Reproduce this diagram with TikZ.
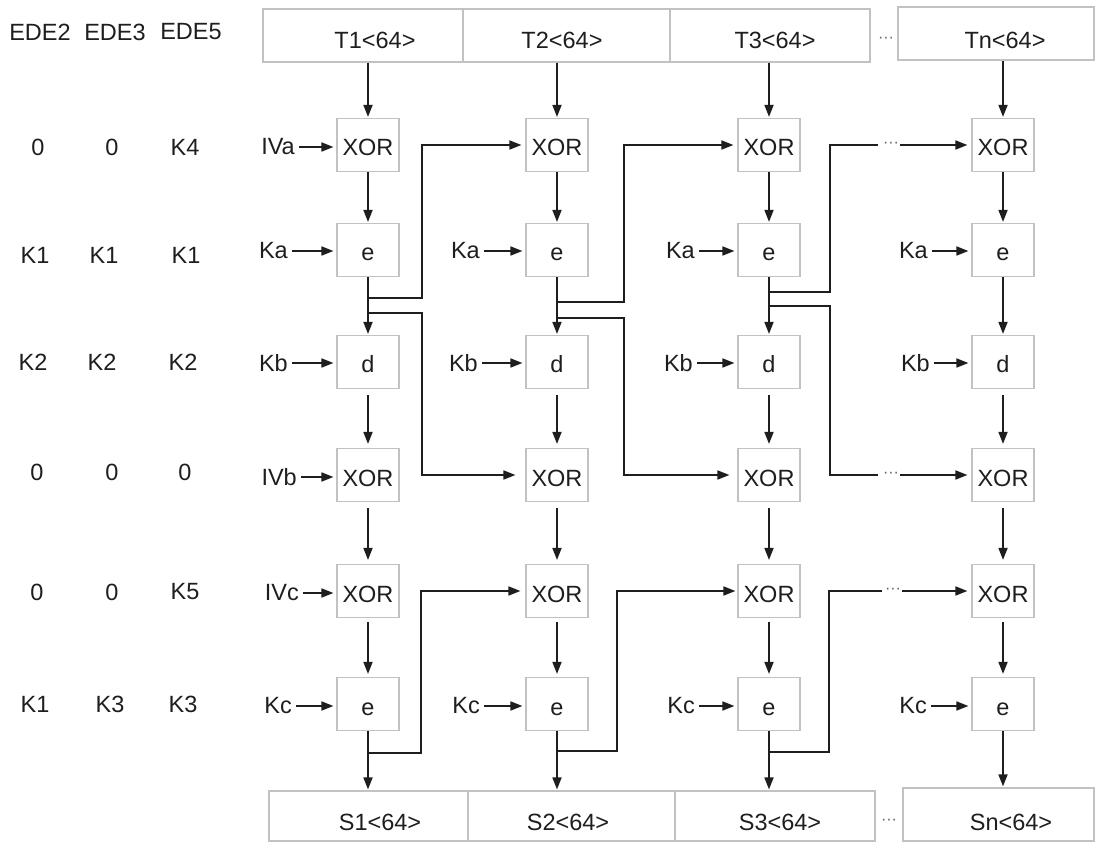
\documentclass[tikz,border=0pt]{standalone}
\usepackage{fontspec}
\setmainfont{Liberation Sans}
\usetikzlibrary{arrows.meta}
\definecolor{ink}{HTML}{1E1E1E}
\definecolor{boxline}{HTML}{C2C2C2}
\tikzset{
  every node/.style={font=\fontsize{23.5}{28}\selectfont, text=ink},
  blk/.style={draw=boxline, line width=1.2pt, minimum width=62pt, minimum height=53pt, inner sep=0pt, text height=22pt, text depth=0pt},
  strip/.style={draw=boxline, line width=1.2pt, inner sep=0pt},
  lbl/.style={inner sep=2pt, anchor=east},
  wire/.style={draw=ink, line width=1.7pt},
  arr/.style={wire, -{Triangle[length=12pt,width=9pt]}, shorten >=1pt},
  larr/.style={arr, shorten <=2pt, shorten >=3pt},
  dotsn/.style={font=\fontsize{16}{18}\selectfont, text=ink!70, inner sep=1pt},
}
\begin{document}
\begin{tikzpicture}[x=1pt,y=-1pt]
\useasboundingbox (0,0) rectangle (1096,842);
\fill[white] (0,0) rectangle (1096,842);

% ---------- left table ----------
\node (h2) at (40,32) {EDE2};
\node (h3) at (115,32) {EDE3};
\node (h5) at (191,32) {EDE5};
\node (a2) at (38,147) {0};   \node (a3) at (112,147) {0};  \node (a5) at (185,147) {K4};
\node (b2) at (35,255) {K1};  \node (b3) at (104,255) {K1}; \node (b5) at (186,255) {K1};
\node (c2) at (33,362) {K2};  \node (c3) at (102,362) {K2}; \node (c5) at (183,362) {K2};
\node (d2) at (37,472) {0};   \node (d3) at (112,472) {0};  \node (d5) at (185,472) {0};
\node (e2) at (37,592) {0};   \node (e3) at (112,592) {0};  \node (e5) at (185,592) {K5};
\node (f2) at (35,704) {K1};  \node (f3) at (110,704) {K3}; \node (f5) at (183,704) {K3};

% ---------- top strip ----------
\node[strip, minimum width=200pt, minimum height=53pt] (T1) at (363,35.5) {};
\node[strip, minimum width=207pt, minimum height=53pt] (T2) at (566.5,35.5) {};
\node[strip, minimum width=200pt, minimum height=53pt] (T3) at (770,35.5) {};
\node[strip, minimum width=196pt, minimum height=53pt] (Tn) at (996,33.5) {};
\node (T1t) at (375,40) {T1<64>};
\node (T2t) at (562,40) {T2<64>};
\node (T3t) at (775,40) {T3<64>};
\node (Tnt) at (1005,40) {Tn<64>};
\node[dotsn] (Tdots) at (886,40) {···};

% ---------- bottom strip ----------
\node[strip, minimum width=199pt, minimum height=50pt] (S1) at (368.5,816) {};
\node[strip, minimum width=207pt, minimum height=50pt] (S2) at (571.5,816) {};
\node[strip, minimum width=200pt, minimum height=50pt] (S3) at (775,816) {};
\node[strip, minimum width=191pt, minimum height=53pt] (Sn) at (998.5,814.5) {};
\node (S1t) at (380,822) {S1<64>};
\node (S2t) at (568,822) {S2<64>};
\node (S3t) at (780,822) {S3<64>};
\node (Snt) at (1011,822) {Sn<64>};
\node[dotsn] (Sdots) at (889,822) {···};

% ---------- blocks ----------
% column 1
\node[blk] (XA1) at (368,145) {XOR};
\node[blk] (EA1) at (368,250) {e};
\node[blk] (D1)  at (368,362) {d};
\node[blk] (XB1) at (368,475) {XOR};
\node[blk] (XC1) at (368,591) {XOR};
\node[blk] (EC1) at (368,704) {e};
% column 2
\node[blk] (XA2) at (557,145) {XOR};
\node[blk] (EA2) at (557,250) {e};
\node[blk] (D2)  at (557,362) {d};
\node[blk] (XB2) at (557,475) {XOR};
\node[blk] (XC2) at (557,591) {XOR};
\node[blk] (EC2) at (557,704) {e};
% column 3
\node[blk] (XA3) at (769,145) {XOR};
\node[blk] (EA3) at (769,250) {e};
\node[blk] (D3)  at (769,362) {d};
\node[blk] (XB3) at (769,475) {XOR};
\node[blk] (XC3) at (769,591) {XOR};
\node[blk] (EC3) at (769,704) {e};
% column 4
\node[blk] (XA4) at (1003,145) {XOR};
\node[blk] (EA4) at (1003,250) {e};
\node[blk] (D4)  at (1003,362) {d};
\node[blk] (XB4) at (1003,475) {XOR};
\node[blk] (XC4) at (1003,591) {XOR};
\node[blk] (EC4) at (1003,704) {e};

% ---------- side inputs ----------
\node[lbl] (IVa) at (297,147) {IVa};
\node[lbl] (Ka1) at (290,251) {Ka};
\node[lbl] (Kb1) at (290,363) {Kb};
\node[lbl] (IVb) at (299,477) {IVb};
\node[lbl] (IVc) at (301,593) {IVc};
\node[lbl] (Kc1) at (294,706) {Kc};
\node[lbl] (Ka2) at (482,251) {Ka};
\node[lbl] (Kb2) at (480,363) {Kb};
\node[lbl] (Kc2) at (482,706) {Kc};
\node[lbl] (Ka3) at (697,251) {Ka};
\node[lbl] (Kb3) at (695,363) {Kb};
\node[lbl] (Kc3) at (697,706) {Kc};
\node[lbl] (Ka4) at (930,251) {Ka};
\node[lbl] (Kb4) at (932,363) {Kb};
\node[lbl] (Kc4) at (929,706) {Kc};

\foreach \l/\b in {IVa/XA1,Ka1/EA1,Kb1/D1,IVb/XB1,IVc/XC1,Kc1/EC1,
                   Ka2/EA2,Kb2/D2,Kc2/EC2,Ka3/EA3,Kb3/D3,Kc3/EC3,
                   Ka4/EA4,Kb4/D4,Kc4/EC4}
  \draw[larr] (\l.east) -- (\l.east -| \b.west);

% ---------- vertical flow ----------
\foreach \c/\t/\s in {1/T1/S1,2/T2/S2,3/T3/S3,4/Tn/Sn}{
  \draw[arr] (XA\c |- \t.south) -- (XA\c);
  \draw[arr] (XA\c) -- (EA\c);
  \draw[arr] (EA\c) -- (D\c);
  \draw[arr, shorten <=6pt, shorten >=4pt] (D\c) -- (XB\c);
  \draw[arr, shorten <=6pt, shorten >=4pt] (XB\c) -- (XC\c);
  \draw[arr, shorten <=4pt, shorten >=3pt] (XC\c) -- (EC\c);
  \draw[arr] (EC\c) -- (EC\c |- \s.north);
}

% ---------- feed-forward branches (upper half) ----------
\coordinate (J1u) at (368,298); \coordinate (K1u) at (422,298);
\coordinate (J1d) at (368,313); \coordinate (K1d) at (422,313);
\coordinate (J2u) at (557,302); \coordinate (K2u) at (624,302);
\coordinate (J2d) at (557,318); \coordinate (K2d) at (624,318);
\coordinate (J3u) at (769,292); \coordinate (K3u) at (830,292);
\coordinate (J3d) at (769,306); \coordinate (K3d) at (830,306);
\draw[arr, shorten >=4pt] (J1u) -- (K1u) |- (XA2);
\draw[arr, shorten >=10pt] (J1d) -- (K1d) |- (XB2);
\draw[arr, shorten >=4pt] (J2u) -- (K2u) |- (XA3);
\draw[arr, shorten >=8pt] (J2d) -- (K2d) |- (XB3);
\coordinate (P3u) at (878,145);
\coordinate (P3d) at (878,475);
\draw[wire] (J3u) -- (K3u) |- (P3u);
\draw[wire] (J3d) -- (K3d) |- (P3d);
\node[dotsn] (Q3u) at (891,145) {···};
\node[dotsn] (Q3d) at (891,475) {···};
\draw[arr, shorten >=4pt] (Q3u) -- (XA4);
\draw[arr, shorten >=4pt] (Q3d) -- (XB4);

% ---------- feed-forward branches (lower half) ----------
\coordinate (J1c) at (368,753); \coordinate (K1c) at (421,753);
\coordinate (J2c) at (557,751); \coordinate (K2c) at (617,751);
\coordinate (J3c) at (769,752); \coordinate (K3c) at (829,752);
\draw[arr, shorten >=5pt] (J1c) -- (K1c) |- (XC2);
\draw[arr, shorten >=2pt] (J2c) -- (K2c) |- (XC3);
\coordinate (P3c) at (882,591);
\draw[wire] (J3c) -- (K3c) |- (P3c);
\node[dotsn] (Q3c) at (893,591) {···};
\draw[arr, shorten >=4pt] (Q3c) -- (XC4);
\end{tikzpicture}
\end{document}
